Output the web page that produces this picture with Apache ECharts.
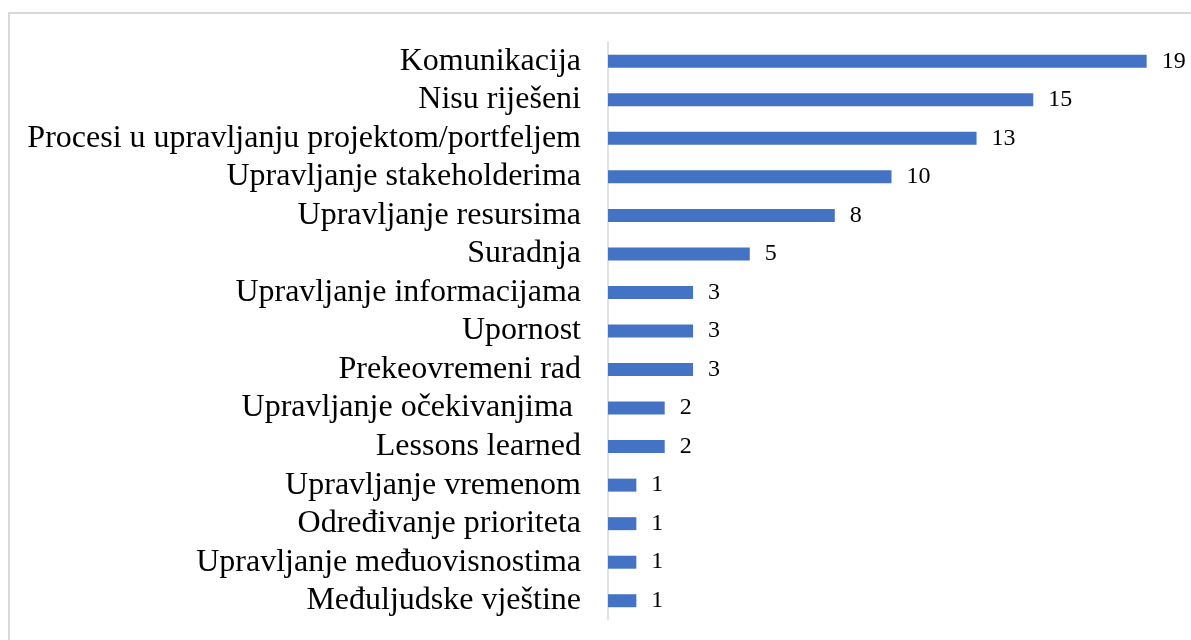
<!DOCTYPE html>
<html>
<head>
<meta charset="utf-8">
<script src="https://cdn.jsdelivr.net/npm/echarts@6/dist/echarts.min.js"></script>
<style>
html,body{margin:0;padding:0;background:#fff;}
#chart{width:1191px;height:640px;}
</style>
</head>
<body>
<div id="chart"></div>
<script>
const categories = [
  "Komunikacija",
  "Nisu riješeni",
  "Procesi u upravljanju projektom/portfeljem",
  "Upravljanje stakeholderima",
  "Upravljanje resursima",
  "Suradnja",
  "Upravljanje informacijama",
  "Upornost",
  "Prekeovremeni rad",
  "Upravljanje očekivanjima ",
  "Lessons learned",
  "Upravljanje vremenom",
  "Određivanje prioriteta",
  "Upravljanje međuovisnostima",
  "Međuljudske vještine"
];
const values = [19, 15, 13, 10, 8, 5, 3, 3, 3, 2, 2, 1, 1, 1, 1];

const chart = echarts.init(document.getElementById('chart'));
chart.setOption({
  animation: false,
  backgroundColor: '#ffffff',
  graphic: [{
    type: 'rect',
    shape: {x: 9, y: 13, width: 1300, height: 800},
    style: {fill: 'none', stroke: '#d9d9d9', lineWidth: 2},
    silent: true
  }],
  grid: {left: 608, right: 16, top: 42, bottom: 20, containLabel: false},
  xAxis: {
    type: 'value', min: 0, max: 20, show: false
  },
  yAxis: {
    type: 'category',
    data: categories,
    inverse: true,
    axisLine: {show: true, lineStyle: {color: '#d9d9d9', width: 1.5}},
    axisTick: {show: false},
    axisLabel: {
      interval: 0,
      color: '#000', fontFamily: 'Liberation Serif', fontSize: 32, margin: 27
    }
  },
  series: [{
    type: 'bar',
    data: values,
    barWidth: 13,
    itemStyle: {color: '#4472C4'},
    label: {
      show: true, position: 'right', distance: 15,
      color: '#000', fontFamily: 'Liberation Serif', fontSize: 24
    }
  }]
});
</script>
</body>
</html>
